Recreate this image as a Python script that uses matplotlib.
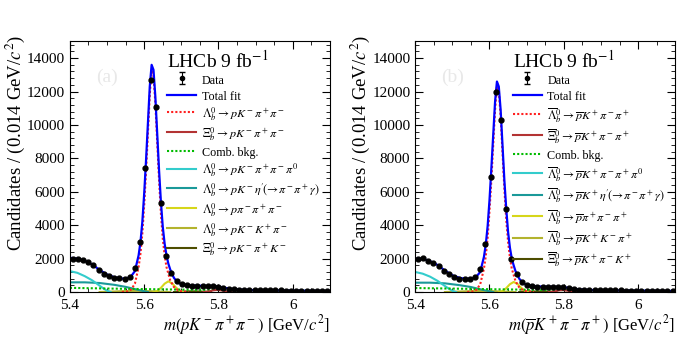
import numpy as np
import matplotlib
matplotlib.use("Agg")
import matplotlib.pyplot as plt
from matplotlib.ticker import MultipleLocator

plt.rcParams["font.family"] = ["Liberation Serif", "DejaVu Serif"]
plt.rcParams["mathtext.fontset"] = "stix"

# data points, 50 bins of 0.014 GeV starting at 5.4
bin_centres = 5.407 + 0.014 * np.arange(50)
data_a = [2000, 1990, 1900, 1790, 1600, 1330, 1100, 950, 860, 810,
          800, 880, 1450, 3000, 7400, 12700, 11100, 5350, 2150, 1150,
          650, 470, 410, 390, 370, 360, 350, 340, 310, 250,
          200, 160, 140, 130, 120, 115, 110, 105, 100, 95,
          95, 90, 88, 85, 82, 80, 78, 75, 72, 70]
data_b = [2000, 2010, 1850, 1720, 1550, 1280, 1050, 870, 800, 790,
          790, 880, 1400, 2900, 6900, 12000, 10300, 4950, 1950, 1050,
          620, 420, 350, 330, 320, 310, 300, 300, 290, 240,
          190, 150, 130, 120, 110, 105, 100, 98, 95, 92,
          90, 88, 85, 82, 80, 78, 75, 72, 70, 68]

# fit curves
fit_x = [5.40, 5.42, 5.44, 5.46, 5.48, 5.50, 5.52, 5.54, 5.555, 5.565,
         5.575, 5.585, 5.59, 5.595, 5.60, 5.605, 5.61, 5.615, 5.62, 5.625,
         5.63, 5.635, 5.64, 5.645, 5.65, 5.655, 5.66, 5.665, 5.67, 5.68,
         5.69, 5.70, 5.72, 5.74, 5.76, 5.78, 5.80, 5.82, 5.84, 5.86,
         5.90, 5.95, 6.00, 6.05, 6.10]
total_a = [2050, 2000, 1880, 1650, 1320, 1050, 880, 800, 830, 950,
           1250, 2200, 3000, 4200, 5900, 7900, 10100, 12300, 13600, 13300,
           11700, 9500, 7300, 5400, 3900, 2900, 2200, 1700, 1350, 850,
           580, 460, 400, 380, 370, 360, 330, 240, 170, 140,
           110, 95, 82, 72, 65]
total_b = [2000, 1990, 1850, 1620, 1280, 1000, 840, 790, 820, 930,
           1200, 2100, 2850, 3950, 5500, 7400, 9400, 11400, 12600, 12300,
           10900, 8800, 6700, 5000, 3600, 2650, 2000, 1600, 1250, 800,
           530, 420, 350, 330, 320, 310, 290, 220, 160, 130,
           105, 92, 82, 72, 64]

sig_x = [5.54, 5.555, 5.565, 5.575, 5.585, 5.59, 5.595, 5.60, 5.605, 5.61,
         5.615, 5.62, 5.625, 5.63, 5.635, 5.64, 5.645, 5.65, 5.655, 5.66,
         5.67, 5.68, 5.69, 5.70, 5.72]
sig_a = [0, 30, 150, 500, 1500, 2300, 3500, 5200, 7200, 9500,
         11800, 13300, 13000, 11300, 9000, 6700, 4700, 3200, 2200, 1500,
         700, 300, 120, 40, 0]
sig_b = [0, 30, 140, 460, 1400, 2150, 3250, 4850, 6700, 8800,
         10900, 12300, 12050, 10500, 8350, 6200, 4350, 3000, 2050, 1400,
         650, 280, 110, 40, 0]

xi_x = [5.76, 5.775, 5.785, 5.797, 5.81, 5.82, 5.835]
xi_a = [0, 40, 100, 130, 90, 40, 0]
xi_b = [0, 35, 90, 120, 80, 35, 0]

comb_x = [5.40, 5.50, 5.60, 5.70, 5.80, 5.90, 6.00, 6.10]
comb_a = [250, 210, 175, 145, 120, 95, 75, 60]
comb_b = [240, 205, 170, 140, 115, 92, 74, 58]

pi0_x = [5.40, 5.42, 5.44, 5.46, 5.48, 5.49, 5.50, 5.51]
pi0_a = [1250, 1150, 950, 700, 380, 220, 80, 0]
pi0_b = [1200, 1100, 920, 670, 360, 210, 75, 0]

etap_x = [5.40, 5.44, 5.48, 5.52, 5.55, 5.58, 5.60, 5.61]
etap_a = [580, 580, 540, 430, 310, 150, 50, 0]
etap_b = [560, 560, 520, 410, 300, 140, 45, 0]

pppp_x = [5.625, 5.635, 5.645, 5.655, 5.665, 5.675, 5.685, 5.695, 5.705]
pppp_a = [0, 60, 250, 500, 640, 520, 280, 80, 0]
pppp_b = [0, 55, 230, 470, 600, 490, 260, 75, 0]

pkkp_x = [5.48, 5.52, 5.55, 5.58, 5.61, 5.64, 5.67]
pkkp_a = [0, 30, 60, 70, 55, 25, 0]
pkkp_b = [0, 28, 55, 65, 50, 22, 0]

xik_x = [5.68, 5.70, 5.72, 5.74, 5.76, 5.78]
xik_a = [0, 20, 40, 40, 20, 0]
xik_b = [0, 18, 36, 36, 18, 0]

labels_a = [
    "Data", "Total fit",
    r"$\mathit{\Lambda}_b^0 \rightarrow pK^-\pi^+\pi^-$",
    r"$\mathit{\Xi}_b^0 \rightarrow pK^-\pi^+\pi^-$",
    "Comb. bkg.",
    r"$\mathit{\Lambda}_b^0 \rightarrow pK^-\pi^+\pi^-\pi^0$",
    r"$\mathit{\Lambda}_b^0 \rightarrow pK^-\eta'\!(\!\rightarrow\!\pi^-\pi^+\gamma)$",
    r"$\mathit{\Lambda}_b^0 \rightarrow p\pi^-\pi^+\pi^-$",
    r"$\mathit{\Lambda}_b^0 \rightarrow pK^-K^+\pi^-$",
    r"$\mathit{\Xi}_b^0 \rightarrow pK^-\pi^+K^-$",
]
labels_b = [
    "Data", "Total fit",
    r"$\overline{\mathit{\Lambda}}_b^0 \rightarrow \overline{p}K^+\pi^-\pi^+$",
    r"$\overline{\mathit{\Xi}}_b^0 \rightarrow \overline{p}K^+\pi^-\pi^+$",
    "Comb. bkg.",
    r"$\overline{\mathit{\Lambda}}_b^0 \rightarrow \overline{p}K^+\pi^-\pi^+\pi^0$",
    r"$\overline{\mathit{\Lambda}}_b^0 \rightarrow \overline{p}K^+\eta'\!(\!\rightarrow\!\pi^-\pi^+\gamma)$",
    r"$\overline{\mathit{\Lambda}}_b^0 \rightarrow \overline{p}\pi^+\pi^-\pi^+$",
    r"$\overline{\mathit{\Lambda}}_b^0 \rightarrow \overline{p}K^+K^-\pi^+$",
    r"$\overline{\mathit{\Xi}}_b^0 \rightarrow \overline{p}K^+\pi^-K^+$",
]
xlabel_a = r"$m(pK^-\pi^+\pi^-)$ [GeV/$c^2$]"
xlabel_b = r"$m(\overline{p}K^+\pi^-\pi^+)$ [GeV/$c^2$]"


def draw(ax, data, total, sig, xi, comb, pi0, etap, pppp, pkkp, xik, labels, xlabel, tag):
    h_xik, = ax.plot(xik_x, xik, color="#4d4d00", lw=1.5)
    h_pkkp, = ax.plot(pkkp_x, pkkp, color="#b3b32e", lw=1.5)
    h_pppp, = ax.plot(pppp_x, pppp, color="#d6d61a", lw=1.5)
    h_etap, = ax.plot(etap_x, etap, color="#1a9999", lw=1.5)
    h_pi0, = ax.plot(pi0_x, pi0, color="#33cccc", lw=1.5)
    h_comb, = ax.plot(comb_x, comb, color="#00bb00", lw=1.5, ls=(0, (1, 1)))
    h_xi, = ax.plot(xi_x, xi, color="#b33333", lw=1.5)
    h_sig, = ax.plot(sig_x, sig, color="#ff2020", lw=1.5, ls=(0, (1, 1)))
    h_tot, = ax.plot(fit_x, total, color="#0000ff", lw=1.6)
    ax.errorbar(bin_centres, data, yerr=np.sqrt(data), fmt="o", ms=3.5,
                color="black", elinewidth=0.8, capsize=0)
    # legend entry for the data, with caps as in the original
    h_dat = ax.errorbar([np.nan], [np.nan], yerr=[1], fmt="o", ms=3,
                        color="black", elinewidth=0.8, capsize=2)
    handles = [h_dat, h_tot, h_sig, h_xi, h_comb, h_pi0, h_etap, h_pppp, h_pkkp, h_xik]
    ax.legend(handles, labels, loc="upper left", bbox_to_anchor=(0.375, 0.875),
              frameon=False, fontsize=8.7, handlelength=2.4, handletextpad=0.45,
              handleheight=1.4, labelspacing=0.2, borderpad=0, borderaxespad=0)
    ax.text(0.375, 0.895, r"LHCb 9 fb$^{-1}$", transform=ax.transAxes, fontsize=14)
    ax.text(0.10, 0.84, tag, transform=ax.transAxes, fontsize=14, color="#e8e8e8")
    ax.set_xlim(5.4, 6.1)
    ax.set_ylim(0, 15000)
    ax.xaxis.set_major_locator(MultipleLocator(0.2))
    ax.xaxis.set_minor_locator(MultipleLocator(0.05))
    ax.yaxis.set_major_locator(MultipleLocator(2000))
    ax.yaxis.set_minor_locator(MultipleLocator(400))
    ax.set_xticks([5.4, 5.6, 5.8, 6.0], ["5.4", "5.6", "5.8", "6"])
    ax.tick_params(which="both", direction="in", top=True, right=True, labelsize=11)
    ax.tick_params(which="major", length=6)
    ax.tick_params(which="minor", length=3)
    ax.tick_params(axis="x", pad=5)
    ax.set_xlabel(xlabel, fontsize=12, loc="right", labelpad=1)
    ax.set_ylabel("Candidates / (0.014 GeV/$c^2$)", fontsize=13.5)
    ax.yaxis.set_label_coords(-0.165, 0.594)


fig = plt.figure(figsize=(6.99, 3.51), dpi=100)
ax1 = fig.add_axes([0.100, 0.168, 0.372, 0.714])
ax2 = fig.add_axes([0.594, 0.168, 0.372, 0.714])
draw(ax1, data_a, total_a, sig_a, xi_a, comb_a, pi0_a, etap_a, pppp_a, pkkp_a, xik_a,
     labels_a, xlabel_a, "(a)")
draw(ax2, data_b, total_b, sig_b, xi_b, comb_b, pi0_b, etap_b, pppp_b, pkkp_b, xik_b,
     labels_b, xlabel_b, "(b)")
fig.savefig("out.png", dpi=100)
